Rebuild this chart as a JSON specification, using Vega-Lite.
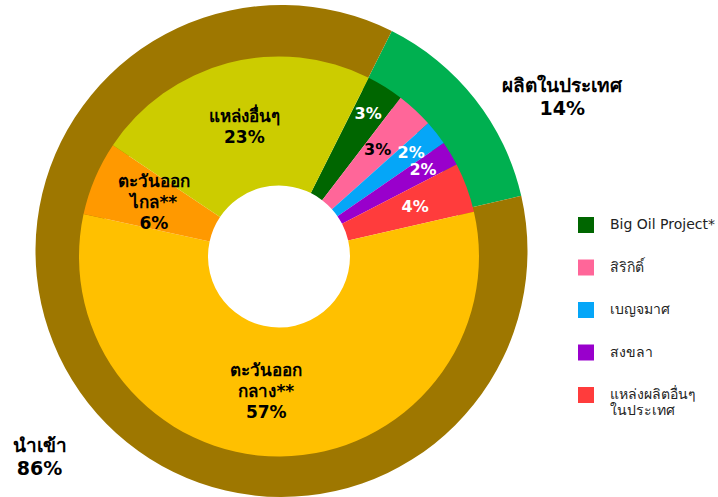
{
  "$schema": "https://vega.github.io/schema/vega-lite/v6.json",
  "width": 560,
  "height": 497,
  "padding": 0,
  "autosize": {"type": "pad"},
  "background": "white",
  "config": {"view": {"stroke": null}, "font": "DejaVu Sans"},
  "datasets": {
    "outer": [
      {"name": "ผลิตในประเทศ", "pct": 14, "ord": 1, "src": "domestic", "label": "ผลิตในประเทศ\n14%"},
      {"name": "นำเข้า", "pct": 86, "ord": 2, "src": "import", "label": "นำเข้า\n86%"}
    ],
    "inner": [
      {"name": "Big Oil Project*", "pct": 3, "ord": 1, "src": "domestic", "label": "3%"},
      {"name": "สิริกิติ์", "pct": 3, "ord": 2, "src": "domestic", "label": "3%"},
      {"name": "เบญจมาศ", "pct": 2, "ord": 3, "src": "domestic", "label": "2%"},
      {"name": "สงขลา", "pct": 2, "ord": 4, "src": "domestic", "label": "2%"},
      {"name": "แหล่งผลิตอื่นๆ ในประเทศ", "pct": 4, "ord": 5, "src": "domestic", "label": "4%"},
      {"name": "ตะวันออกกลาง", "pct": 57, "ord": 6, "src": "import", "label": "ตะวันออก\nกลาง**\n57%"},
      {"name": "ตะวันออกไกล", "pct": 6, "ord": 7, "src": "import", "label": "ตะวันออก\nไกล**\n6%"},
      {"name": "แหล่งอื่นๆ", "pct": 23, "ord": 8, "src": "import", "label": "แหล่งอื่นๆ\n23%"}
    ]
  },
  "layer": [
    {
      "data": {"name": "outer"},
      "mark": {"type": "arc", "outerRadius": 246, "innerRadius": 180, "xOffset": 0.5, "yOffset": 2.5},
      "encoding": {
        "theta": {"field": "pct", "type": "quantitative", "stack": true, "scale": {"range": [0.465, 6.748]}},
        "order": {"field": "ord", "type": "quantitative"},
        "color": {
          "field": "name", "type": "nominal",
          "scale": {
            "domain": ["Big Oil Project*", "สิริกิติ์", "เบญจมาศ", "สงขลา", "แหล่งผลิตอื่นๆ ในประเทศ", "ตะวันออกกลาง", "ตะวันออกไกล", "แหล่งอื่นๆ", "ผลิตในประเทศ", "นำเข้า"],
            "range": ["#006600", "#FF6699", "#05A6F8", "#9900CC", "#FF3C3C", "#FFC000", "#FF9900", "#CCCC00", "#00B050", "#9E7700"]
          },
          "legend": {
            "values": ["Big Oil Project*", "สิริกิติ์", "เบญจมาศ", "สงขลา", "แหล่งผลิตอื่นๆ ในประเทศ"],
            "orient": "none",
            "legendX": 577,
            "legendY": 217,
            "title": null,
            "symbolType": "square",
            "symbolSize": 256,
            "symbolStrokeWidth": 0,
            "symbolOpacity": 1,
            "labelFont": "DejaVu Sans",
            "labelFontSize": 14,
            "labelColor": "#222222",
            "labelOffset": 16,
            "labelLimit": 200,
            "rowPadding": 26.5,
            "labelExpr": "datum.label == 'แหล่งผลิตอื่นๆ ในประเทศ' ? ['แหล่งผลิตอื่นๆ', 'ในประเทศ'] : datum.label"
          }
        }
      }
    },
    {
      "data": {"name": "inner"},
      "mark": {"type": "arc", "outerRadius": 200, "innerRadius": 71, "xOffset": -2, "yOffset": 8},
      "encoding": {
        "theta": {"field": "pct", "type": "quantitative", "stack": true},
        "order": {"field": "ord", "type": "quantitative"},
        "color": {"field": "name", "type": "nominal"}
      }
    },
    {
      "data": {"name": "inner"},
      "mark": {"type": "text", "radius": 168, "xOffset": -2, "yOffset": 8, "fontWeight": "bold", "fontSize": 16, "font": "DejaVu Sans"},
      "encoding": {
        "theta": {"field": "pct", "type": "quantitative", "stack": true},
        "order": {"field": "ord", "type": "quantitative"},
        "detail": {"field": "name", "type": "nominal"},
        "text": {"condition": {"test": "datum.ord == 1 || datum.ord == 3 || datum.ord == 4", "field": "label"}, "value": ""},
        "color": {"value": "white"}
      }
    },
    {
      "data": {"name": "inner"},
      "mark": {"type": "text", "radius": 145, "xOffset": -2, "yOffset": 8, "fontWeight": "bold", "fontSize": 16, "font": "DejaVu Sans"},
      "encoding": {
        "theta": {"field": "pct", "type": "quantitative", "stack": true},
        "order": {"field": "ord", "type": "quantitative"},
        "detail": {"field": "name", "type": "nominal"},
        "text": {"condition": {"test": "datum.ord == 2 || datum.ord == 5", "field": "label"}, "value": ""},
        "color": {"condition": {"test": "datum.ord == 2", "value": "black"}, "value": "white"}
      }
    },
    {
      "data": {"name": "inner"},
      "mark": {"type": "text", "radius": 136, "thetaOffset": 0.1, "xOffset": -2, "yOffset": 8, "dy": -21, "fontWeight": "bold", "fontSize": 17, "lineBreak": "\n", "lineHeight": 21, "font": "DejaVu Sans", "color": "black"},
      "encoding": {
        "theta": {"field": "pct", "type": "quantitative", "stack": true},
        "order": {"field": "ord", "type": "quantitative"},
        "detail": {"field": "name", "type": "nominal"},
        "text": {"condition": {"test": "datum.ord == 6", "field": "label"}, "value": ""}
      }
    },
    {
      "data": {"name": "inner"},
      "mark": {"type": "text", "radius": 136, "xOffset": -2, "yOffset": 8, "dy": -21, "fontWeight": "bold", "fontSize": 17, "lineBreak": "\n", "lineHeight": 21, "font": "DejaVu Sans", "color": "black"},
      "encoding": {
        "theta": {"field": "pct", "type": "quantitative", "stack": true},
        "order": {"field": "ord", "type": "quantitative"},
        "detail": {"field": "name", "type": "nominal"},
        "text": {"condition": {"test": "datum.ord == 7", "field": "label"}, "value": ""}
      }
    },
    {
      "data": {"name": "inner"},
      "mark": {"type": "text", "radius": 136, "xOffset": -2, "yOffset": 8, "dy": -8, "fontWeight": "bold", "fontSize": 17, "lineBreak": "\n", "lineHeight": 21, "font": "DejaVu Sans", "color": "black"},
      "encoding": {
        "theta": {"field": "pct", "type": "quantitative", "stack": true},
        "order": {"field": "ord", "type": "quantitative"},
        "detail": {"field": "name", "type": "nominal"},
        "text": {"condition": {"test": "datum.ord == 8", "field": "label"}, "value": ""}
      }
    },
    {
      "data": {"name": "outer"},
      "mark": {"type": "text", "radius": 320, "thetaOffset": 0.166, "xOffset": 0.5, "yOffset": 2.5, "dy": -11.5, "fontWeight": "bold", "fontSize": 19, "lineBreak": "\n", "lineHeight": 23, "font": "DejaVu Sans", "color": "black"},
      "encoding": {
        "theta": {"field": "pct", "type": "quantitative", "stack": true},
        "order": {"field": "ord", "type": "quantitative"},
        "detail": {"field": "name", "type": "nominal"},
        "text": {"condition": {"test": "datum.src == 'domestic'", "field": "label"}, "value": ""}
      }
    },
    {
      "data": {"name": "outer"},
      "mark": {"type": "text", "radius": 318, "thetaOffset": -0.04, "xOffset": 0.5, "yOffset": 2.5, "dy": -11.5, "fontWeight": "bold", "fontSize": 19, "lineBreak": "\n", "lineHeight": 23, "font": "DejaVu Sans", "color": "black"},
      "encoding": {
        "theta": {"field": "pct", "type": "quantitative", "stack": true},
        "order": {"field": "ord", "type": "quantitative"},
        "detail": {"field": "name", "type": "nominal"},
        "text": {"condition": {"test": "datum.src == 'import'", "field": "label"}, "value": ""}
      }
    }
  ]
}
